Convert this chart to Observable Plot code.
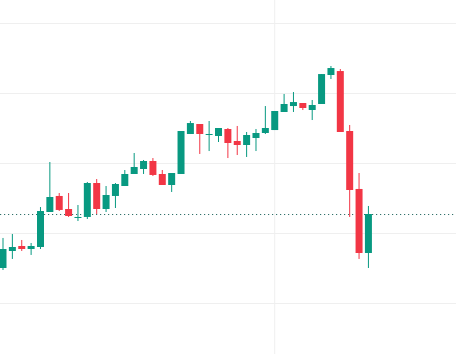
<!DOCTYPE html>
<html>
<head>
<meta charset="utf-8">
<script src="https://cdn.jsdelivr.net/npm/d3@7"></script>
<script src="https://cdn.jsdelivr.net/npm/@observablehq/plot@0.6"></script>
<style>
  html, body { margin: 0; padding: 0; background: #ffffff; }
  #chart svg { display: block; }
</style>
</head>
<body>
<div id="chart"></div>
<script>
const opens  = [105.00,107.43,108.14,107.71,108.00,113.00,115.29,113.43,112.14,112.29,
                117.14,113.43,115.29,116.71,118.43,119.14,120.29,118.43,116.86,118.43,
                124.14,125.57,124.00,123.86,124.86,123.14,122.57,123.57,124.29,124.71,
                127.29,128.14,128.57,127.57,128.43,132.57,133.14,124.57,116.29,107.14];
const highs  = [109.29,109.86,109.00,108.57,113.71,120.14,115.71,115.71,114.00,117.29,
                117.71,116.71,117.14,119.00,121.43,120.43,120.71,119.00,118.57,124.57,
                126.00,125.57,126.00,125.00,125.00,125.29,124.43,124.86,128.14,127.43,
                129.86,130.14,128.57,129.00,132.71,133.86,133.43,125.43,118.57,113.86];
const lows   = [104.71,106.29,107.43,106.86,107.71,113.00,113.14,112.29,111.71,112.00,
                112.71,113.00,113.57,116.71,118.43,118.43,118.14,116.86,115.86,118.43,
                124.14,121.29,121.71,123.00,120.71,121.14,120.86,121.71,124.14,124.71,
                127.29,127.29,127.57,126.14,128.43,132.00,124.43,112.29,106.29,105.00];
const closes = [107.71,108.00,107.71,108.14,113.14,115.14,113.29,112.43,112.29,117.14,
                113.43,115.43,117.00,118.43,119.43,120.29,118.29,116.86,118.57,124.57,
                125.71,124.14,124.14,125.00,122.86,122.57,124.00,124.29,125.00,127.43,
                128.43,128.71,127.86,128.29,132.71,133.57,124.43,116.14,107.14,112.71];
const gridPrices = [100, 110, 120, 130, 140];
const gridBars = [29];

const GREEN = "#089981", RED = "#f23645";
const bars = opens.map((o, i) => ({
  i, open: o, high: highs[i], low: lows[i], close: closes[i],
  color: closes[i] >= o ? GREEN : RED
}));
const lastClose = closes[closes.length - 1];

const chart = Plot.plot({
  width: 456,
  height: 354,
  margin: 0,
  style: { background: "#ffffff", overflow: "hidden" },
  x: { type: "linear", domain: [-0.267, 48.4], axis: null },
  y: { domain: [92.71, 143.29], axis: null },
  marks: [
    Plot.ruleY(gridPrices, { stroke: "#efefef", strokeWidth: 1 }),
    Plot.ruleX(gridBars, { stroke: "#efefef", strokeWidth: 1 }),
    Plot.ruleY([lastClose], { stroke: "#2f6f68", strokeWidth: 1, strokeDasharray: "1.2,2.8" }),
    Plot.ruleX(bars, { x: "i", y1: "low", y2: "high", stroke: "color", strokeWidth: 1 }),
    Plot.ruleX(bars, { x: "i", y1: "open", y2: "close", stroke: "color", strokeWidth: 7 })
  ]
});
document.getElementById("chart").appendChild(chart);
</script>
</body>
</html>
